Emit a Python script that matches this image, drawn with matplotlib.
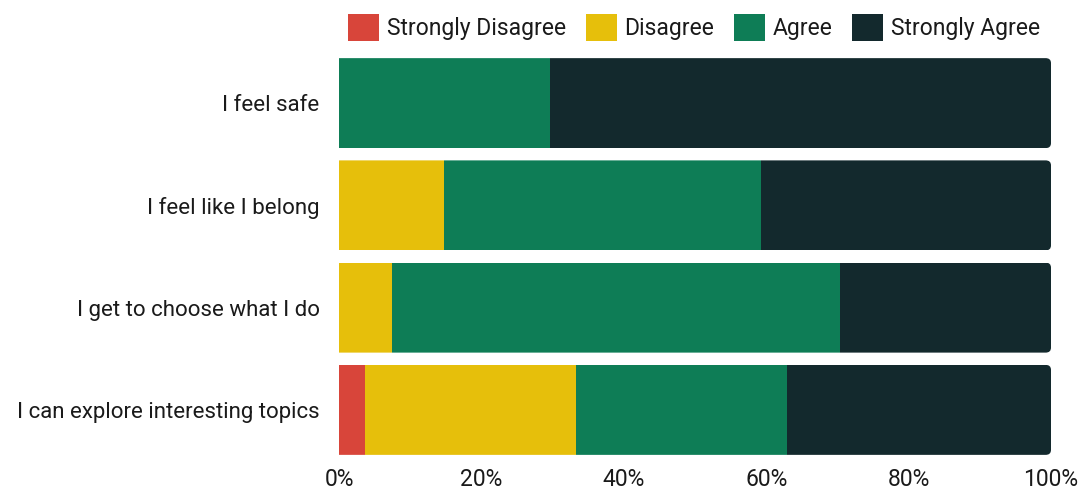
import matplotlib
matplotlib.use("Agg")
import matplotlib.pyplot as plt
from matplotlib.patches import FancyBboxPatch, Patch
from matplotlib.ticker import FuncFormatter

plt.rcParams['font.family'] = ['Roboto', 'DejaVu Sans']

# survey data (percent of respondents)
statements = [
    "I feel safe",
    "I feel like I belong",
    "I get to choose what I do",
    "I can explore interesting topics",
]
levels = ["Strongly Disagree", "Disagree", "Agree", "Strongly Agree"]
strongly_disagree = [0.0, 0.0, 0.0, 3.7]
disagree = [0.0, 14.8, 7.4, 29.6]
agree = [29.6, 44.4, 63.0, 29.6]
strongly_agree = [70.4, 40.8, 29.6, 37.1]
xticks = [0, 20, 40, 60, 80, 100]

colors = ["#d8453a", "#e6bf0b", "#0e7d56", "#13292d"]
series = [strongly_disagree, disagree, agree, strongly_agree]
txt = "#1a1a1a"

fig = plt.figure(figsize=(10.83, 4.9), dpi=100)
ax = fig.add_axes([339 / 1083, 29 / 490, 712 / 1083, 409 / 490])

ypos = list(range(len(statements)))
bar_h = 0.88
left = [0.0] * len(statements)
for vals, col in zip(series, colors):
    bars = ax.barh(ypos, vals, left=left, height=bar_h, color=col, linewidth=0)
    # rounded right end: clip every segment with a rounded box that starts off-axis on the left
    for y, b in zip(ypos, bars):
        clip = FancyBboxPatch((-3, y - bar_h / 2), 103, bar_h,
                              boxstyle="round,pad=0,rounding_size=0.75",
                              mutation_aspect=0.065, transform=ax.transData,
                              facecolor="none", edgecolor="none")
        b.set_clip_path(clip)
    left = [l + v for l, v in zip(left, vals)]

ax.set_xlim(0, 100)
ax.set_ylim(len(statements) - 0.5, -0.5)
ax.set_yticks(ypos)
ax.set_yticklabels(statements, fontsize=16, color=txt)
ax.set_xticks(xticks)
ax.xaxis.set_major_formatter(FuncFormatter(lambda v, _: f"{v:.0f}%"))
ax.tick_params(axis="x", labelsize=16.5, length=0, pad=5, colors=txt)
ax.tick_params(axis="y", length=0, pad=14)
for s in ax.spines.values():
    s.set_visible(False)

handles = [Patch(facecolor=c, edgecolor="none", label=l) for c, l in zip(colors, levels)]
fig.legend(handles=handles, loc="upper center", bbox_to_anchor=(0.641, 1.005), ncol=4,
           frameon=False, fontsize=16.5, handlelength=1.35, handleheight=1.45,
           handletextpad=0.35, columnspacing=0.85, borderaxespad=0.3,
           labelcolor=txt)

fig.savefig("out.png", dpi=100, facecolor="white")
